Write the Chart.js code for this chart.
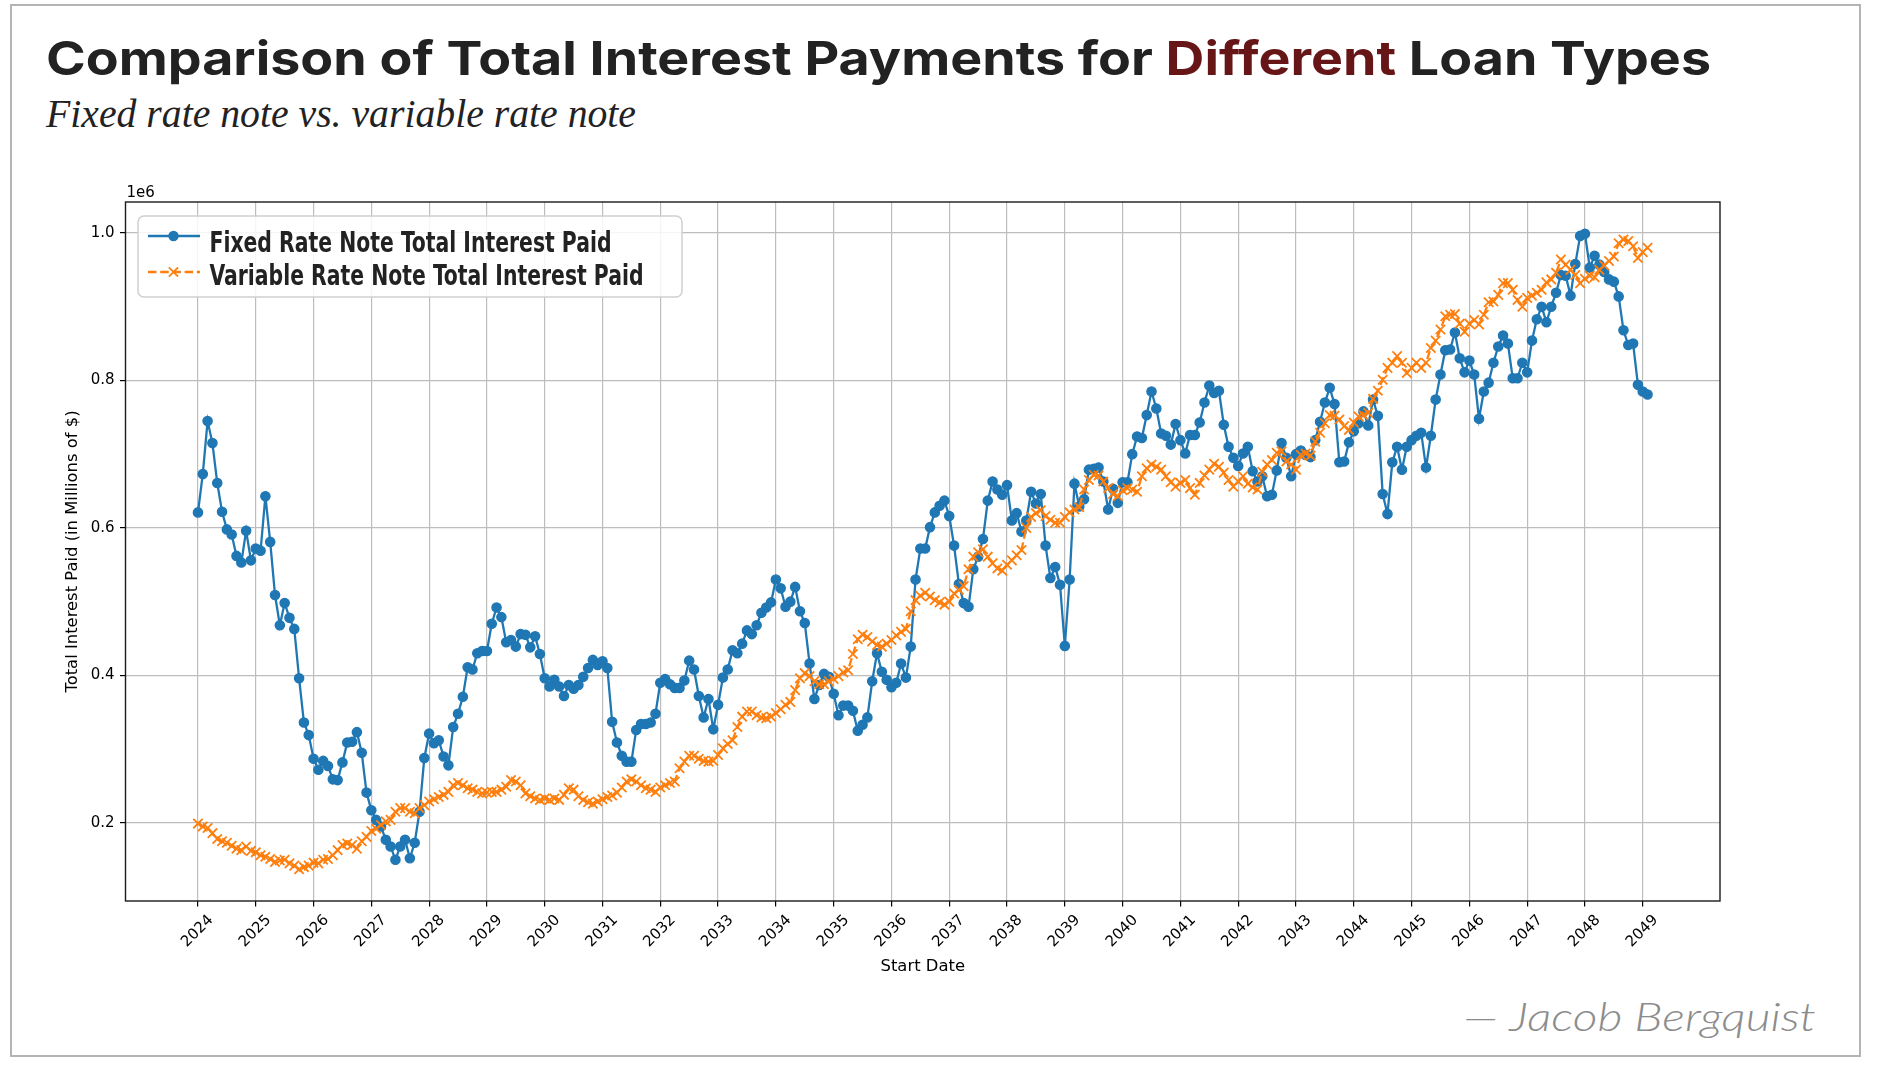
<!DOCTYPE html>
<html>
<head>
<meta charset="utf-8">
<script src="https://cdn.jsdelivr.net/npm/chart.js@4/dist/chart.umd.min.js"></script>
<style>
html,body{margin:0;padding:0;background:#fff;}
#wrap{position:relative;width:1881px;height:1067px;overflow:hidden;background:#fff;}
#frame{position:absolute;left:10px;top:4px;width:1851px;height:1053px;border:2px solid #b4b4b4;box-sizing:border-box;}
.txt{position:absolute;white-space:nowrap;line-height:1;margin:0;padding:0;transform-origin:0 0;}
#title{font-family:Inter,'Open Sans',sans-serif;font-weight:700;font-size:47px;color:#222222;}
#title .hl{color:#661616;}
#subtitle{font-family:'Liberation Serif','DejaVu Serif',serif;font-style:italic;font-size:40px;color:#222222;}
#credit{font-family:Lato,'Open Sans',sans-serif;font-style:italic;font-weight:300;font-size:40px;color:#8c8c8c;}
#chart{position:absolute;left:0;top:0;}
</style>
</head>
<body>
<div id="wrap">
  <div id="frame"></div>
  <div id="title" class="txt">Comparison of Total Interest Payments for <span class="hl">Different</span> Loan Types</div>
  <div id="subtitle" class="txt">Fixed rate note vs. variable rate note</div>
  <div id="credit" class="txt">— Jacob Bergquist</div>
  <canvas id="chart" width="1881" height="1067"></canvas>
</div>
<script>
// ---------------- DATA (values in thousands of dollars) ----------------
const firstYear = 2024;          // first start date: January 2024, monthly
const seriesLabels = ['Fixed Rate Note Total Interest Paid', 'Variable Rate Note Total Interest Paid'];

const fixedInterestK = [
  621,673,745,715,661,622,598,591,562,553,596,556,572,569,643,581,509,468,498,478,463,396,336,319,287,272,284,277,259,258,282,309,310,323,295,241,217,204,
  195,177,168,150,168,177,152,173,215,288,321,308,312,290,278,330,348,371,411,408,430,433,433,470,492,479,445,448,439,456,455,438,453,429,396,385,394,385,372,387,
  382,387,398,410,421,414,419,410,337,309,291,283,283,326,334,334,336,348,390,395,388,383,383,393,420,408,372,343,368,327,360,397,408,434,430,443,461,456,468,
  485,492,499,530,518,493,500,520,487,471,416,368,387,402,398,375,346,359,359,352,325,333,343,392,430,405,394,384,390,416,397,439,530,572,572,601,621,630,637,616,
  576,524,498,493,544,561,585,637,663,652,645,658,610,620,595,610,649,633,646,576,532,547,523,440,530,660,629,639,679,680,682,663,625,653,634,662,662,700,724,
  722,753,785,762,728,725,713,741,719,701,726,726,743,770,793,783,786,740,710,695,684,701,710,677,663,670,643,645,678,715,695,670,700,705,699,696,719,744,770,790,
  768,689,690,716,731,742,758,739,774,752,646,619,689,710,679,710,719,725,729,682,725,774,808,841,842,865,830,811,827,808,748,785,797,824,846,861,850,803,803,
  824,811,854,883,900,879,900,919,943,942,915,958,996,999,953,969,957,947,937,934,914,868,848,850,794,785,781
];

const variableInterestK = [
  199,195,193,186,178,175,173,169,165,163,168,162,160,156,154,151,147,149,150,145,142,137,140,142,146,145,150,151,156,163,170,172,170,165,175,181,189,192,
  197,202,204,215,220,220,215,213,220,224,229,232,235,238,242,251,254,251,247,245,242,240,241,242,242,245,249,258,256,251,240,236,233,231,233,231,233,231,238,247,
  245,236,231,228,226,229,232,235,237,241,248,256,259,256,251,247,245,242,248,251,254,256,274,283,291,291,287,284,283,284,292,301,307,312,330,344,351,351,346,
  343,342,344,349,354,360,364,380,396,403,399,392,388,388,392,395,399,404,407,429,449,455,452,446,441,439,443,448,454,459,463,487,502,508,512,507,502,499,496,500,
  511,516,521,544,561,567,571,561,552,545,542,550,556,563,570,600,615,620,624,616,611,607,607,615,621,625,628,652,665,672,671,663,654,646,643,651,654,652,649,
  670,681,686,683,679,670,662,656,661,665,654,645,661,671,679,687,683,675,665,656,663,670,660,655,652,676,686,692,702,704,690,686,679,699,701,698,717,729,742,753,
  752,747,738,733,743,751,753,756,775,786,801,817,824,833,824,810,817,824,817,824,844,854,869,887,889,890,877,866,877,882,876,889,906,907,916,932,932,923,909,
  900,912,915,919,923,933,937,946,964,957,950,943,932,938,942,940,950,956,962,968,986,991,989,982,966,974,980
];

const yearTicks = [2024,2025,2026,2027,2028,2029,2030,2031,2032,2033,2034,2035,2036,2037,2038,2039,2040,2041,2042,2043,2044,2045,2046,2047,2048,2049];
const yTicksK = [200, 400, 600, 800, 1000];

// start dates (monthly categories) -> decimal years for the linear date axis
const startDates = fixedInterestK.map((_, i) => {
  const y = firstYear + Math.floor(i / 12), m = (i % 12) + 1;
  return y + '-' + String(m).padStart(2, '0');
});
const dateToYear = s => { const [y, m] = s.split('-').map(Number); return y + (m - 1) / 12; };

const fixedPoints = startDates.map((d, i) => ({x: dateToYear(d), y: fixedInterestK[i]}));
const variablePoints = startDates.map((d, i) => ({x: dateToYear(d), y: variableInterestK[i]}));

// ---------------- HTML text placement ----------------
const wrapRect = () => document.getElementById('wrap').getBoundingClientRect();
function placeText(id, left, baseline, targetWidth) {
  const el = document.getElementById(id);
  const mk = document.createElement('span');
  mk.style.cssText = 'display:inline-block;width:0;height:0;vertical-align:baseline;';
  el.insertBefore(mk, el.firstChild);
  el.style.left = left + 'px';
  el.style.top = '0px';
  const w = el.getBoundingClientRect().width;
  el.style.transform = 'scaleX(' + (targetWidth / w) + ')';
  const b = mk.getBoundingClientRect().top - wrapRect().top;
  el.style.top = (baseline - b) + 'px';
}
placeText('title', 46, 75, 1665);
placeText('subtitle', 46, 127, 590);
placeText('credit', 1463, 1031, 353);

// ---------------- Chart ----------------
const BLUE = '#1f77b4', ORANGE = '#ff7f0e';
Chart.defaults.font.family = "'DejaVu Sans', sans-serif";
Chart.defaults.color = '#000';

function roundRectPath(ctx, x, y, w, h, r) {
  ctx.beginPath();
  ctx.moveTo(x + r, y);
  ctx.lineTo(x + w - r, y); ctx.arcTo(x + w, y, x + w, y + r, r);
  ctx.lineTo(x + w, y + h - r); ctx.arcTo(x + w, y + h, x + w - r, y + h, r);
  ctx.lineTo(x + r, y + h); ctx.arcTo(x, y + h, x, y + h - r, r);
  ctx.lineTo(x, y + r); ctx.arcTo(x, y, x + r, y, r);
  ctx.closePath();
}

const framePlugin = {
  id: 'mplFrame',
  afterDatasetsDraw(chart) {
    const {ctx, chartArea: a} = chart;
    ctx.save();
    ctx.strokeStyle = '#1a1a1a';
    ctx.lineWidth = 1.4;
    ctx.strokeRect(a.left, a.top, a.right - a.left, a.bottom - a.top);
    // offset text "1e6"
    ctx.fillStyle = '#000';
    ctx.font = "15px 'DejaVu Sans', sans-serif";
    ctx.textAlign = 'left';
    ctx.textBaseline = 'alphabetic';
    ctx.fillText('1e6', a.left + 1, a.top - 5);
    ctx.restore();
  }
};

const legendPlugin = {
  id: 'mplLegend',
  afterDraw(chart) {
    const ctx = chart.ctx;
    ctx.save();
    roundRectPath(ctx, 138, 216, 544, 81, 6);
    ctx.fillStyle = 'rgba(255,255,255,0.85)';
    ctx.fill();
    ctx.strokeStyle = '#d0d0d0';
    ctx.lineWidth = 1.5;
    ctx.stroke();

    // blue entry
    ctx.strokeStyle = BLUE; ctx.lineWidth = 2.3; ctx.setLineDash([]);
    ctx.beginPath(); ctx.moveTo(148, 236); ctx.lineTo(200, 236); ctx.stroke();
    ctx.fillStyle = BLUE;
    ctx.beginPath(); ctx.arc(173.5, 236, 5.2, 0, Math.PI * 2); ctx.fill();

    // orange entry
    ctx.strokeStyle = ORANGE; ctx.lineWidth = 2.3; ctx.setLineDash([8.5, 3.7]);
    ctx.beginPath(); ctx.moveTo(148, 272); ctx.lineTo(200, 272); ctx.stroke();
    ctx.setLineDash([]); ctx.lineWidth = 1.8;
    const r = 4.6;
    ctx.beginPath();
    ctx.moveTo(173.5 - r, 272 - r); ctx.lineTo(173.5 + r, 272 + r);
    ctx.moveTo(173.5 + r, 272 - r); ctx.lineTo(173.5 - r, 272 + r);
    ctx.stroke();

    // labels (condensed bold)
    ctx.fillStyle = '#222222';
    ctx.font = "bold 29px 'Liberation Sans Narrow', 'DejaVu Sans Condensed', Roboto, sans-serif";
    ctx.textAlign = 'left';
    ctx.textBaseline = 'alphabetic';
    const sx = 402 / ctx.measureText(seriesLabels[0]).width;
    [[seriesLabels[0], 252], [seriesLabels[1], 285]].forEach(([t, by]) => {
      ctx.save(); ctx.translate(209.5, by); ctx.scale(sx, 1); ctx.fillText(t, 0, 0); ctx.restore();
    });
    ctx.restore();
  }
};

new Chart(document.getElementById('chart'), {
  type: 'line',
  data: {
    datasets: [
      {
        label: seriesLabels[0], data: fixedPoints, order: 1,
        borderColor: BLUE, backgroundColor: BLUE, borderWidth: 2.3,
        pointStyle: 'circle', pointRadius: 4.6, pointBorderWidth: 1.4,
        pointBackgroundColor: BLUE, pointBorderColor: BLUE, tension: 0, fill: false
      },
      {
        label: seriesLabels[1], data: variablePoints, order: 0,
        borderColor: ORANGE, backgroundColor: ORANGE, borderWidth: 2.3, borderDash: [8.5, 3.7],
        pointStyle: 'crossRot', pointRadius: 6.6, pointBorderWidth: 1.8,
        pointBackgroundColor: ORANGE, pointBorderColor: ORANGE, tension: 0, fill: false
      }
    ]
  },
  options: {
    responsive: false, animation: false, devicePixelRatio: 1,
    events: [],
    layout: {padding: {left: 62.5, top: 202, right: 161, bottom: 90.2}},
    plugins: {legend: {display: false}, tooltip: {enabled: false}, title: {display: false}},
    scales: {
      x: {
        type: 'linear', position: 'bottom',
        min: 2022.746, max: 2050.337,
        afterBuildTicks: s => { s.ticks = yearTicks.map(v => ({value: v})); },
        afterFit: s => { s.height = 75.8; },
        grid: {color: '#bdbdbd', lineWidth: 1.2, drawTicks: true, tickLength: 5.5, tickColor: '#000', tickWidth: 1.2},
        border: {display: false},
        ticks: {
          autoSkip: false, minRotation: 45, maxRotation: 45, padding: 5, labelOffset: 13,
          font: {size: 15}, color: '#000',
          callback: v => String(v)
        },
        title: {display: true, text: 'Start Date', font: {size: 16.4}, color: '#000', padding: 0}
      },
      y: {
        type: 'linear', position: 'left',
        min: 94, max: 1042,
        afterBuildTicks: s => { s.ticks = yTicksK.map(v => ({value: v})); },
        afterFit: s => { s.width = 63; },
        grid: {color: '#bdbdbd', lineWidth: 1.2, drawTicks: true, tickLength: 5.5, tickColor: '#000', tickWidth: 1.2},
        border: {display: false},
        ticks: {padding: 5.5, font: {size: 15}, color: '#000', callback: v => (v / 1000).toFixed(1)},
        title: {display: true, text: 'Total Interest Paid (in Millions of $)', font: {size: 16.4}, color: '#000', padding: 0}
      }
    }
  },
  plugins: [framePlugin, legendPlugin]
});
</script>
</body>
</html>
